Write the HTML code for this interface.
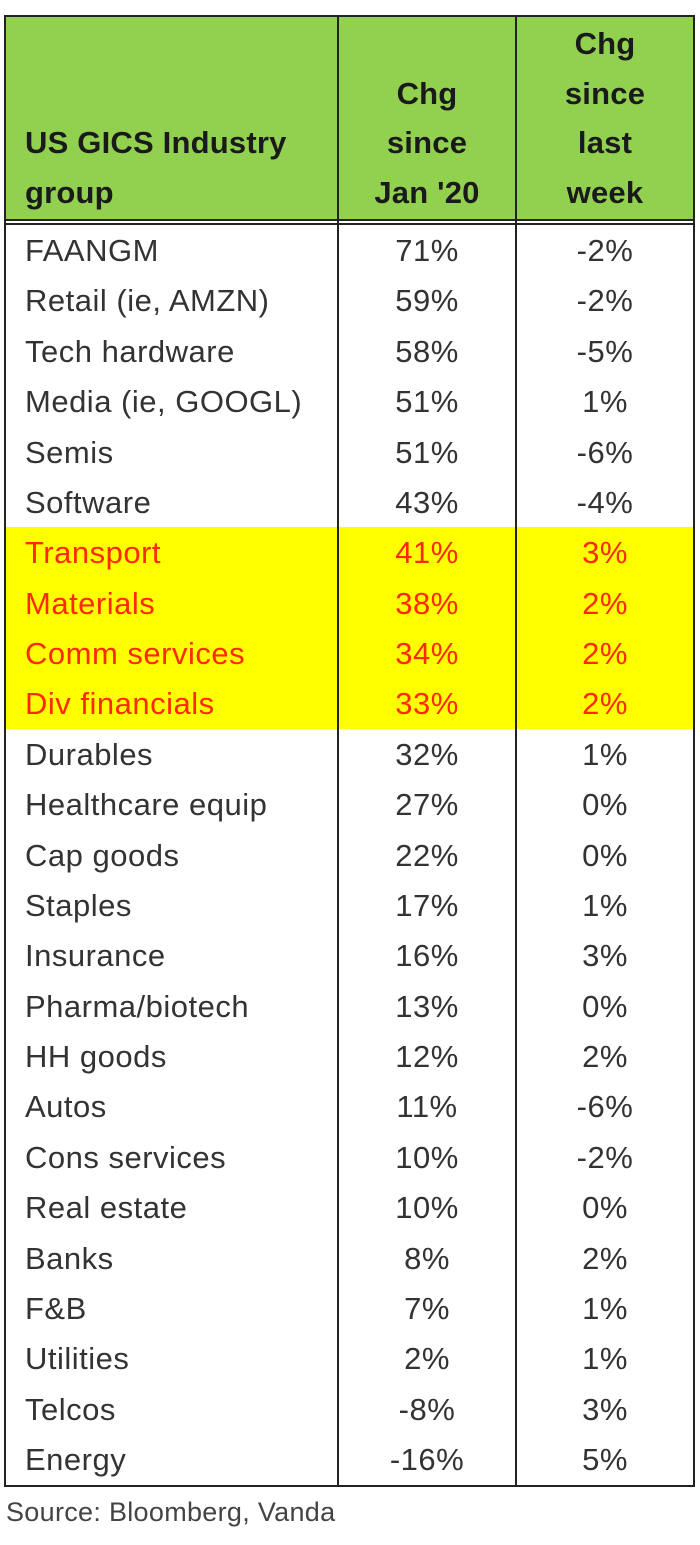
<!DOCTYPE html>
<html><head><style>
body{margin:0;width:700px;height:1545px;background:#fff;position:relative;font-family:"Liberation Sans",sans-serif;overflow:hidden}
.t{position:absolute;font-size:31px;line-height:50px;white-space:nowrap;letter-spacing:0.5px}
.h{font-weight:bold;color:#1a1a1a;font-size:31px;letter-spacing:0.2px}
.c2{left:338px;width:178px;text-align:center}
.c3{left:516px;width:178px;text-align:center}
.c1{left:25px}
.ln{position:absolute;background:#222}
</style></head><body>
<div style="position:absolute;left:5px;top:16px;width:689px;height:204px;background:#92d050"></div>
<div style="position:absolute;left:5px;top:527px;width:689px;height:202px;background:#ffff00"></div>
<div class="ln" style="left:4px;top:15px;width:691px;height:2px"></div>
<div class="ln" style="left:4px;top:1485px;width:691px;height:2px"></div>
<div class="ln" style="left:4px;top:15px;width:2px;height:1472px"></div>
<div class="ln" style="left:693px;top:15px;width:2px;height:1472px"></div>
<div class="ln" style="left:337px;top:15px;width:2px;height:1472px"></div>
<div class="ln" style="left:515px;top:15px;width:2px;height:1472px"></div>
<div class="ln" style="left:4px;top:219px;width:691px;height:2px"></div>
<div class="ln" style="left:4px;top:223px;width:691px;height:1.5px"></div>
<div class="t h c1" style="top:118px">US GICS Industry</div>
<div class="t h c1" style="top:168px">group</div>
<div class="t h c2" style="top:69px">Chg</div>
<div class="t h c2" style="top:118px">since</div>
<div class="t h c2" style="top:168px">Jan '20</div>
<div class="t h c3" style="top:19px">Chg</div>
<div class="t h c3" style="top:69px">since</div>
<div class="t h c3" style="top:118px">last</div>
<div class="t h c3" style="top:168px">week</div>
<div id="rows"></div>
<div style="position:absolute;left:6px;top:1495px;font-size:27px;line-height:34px;color:#444;letter-spacing:0.3px">Source: Bloomberg, Vanda</div>
<script>
var d=[["FAANGM","71%","-2%"],["Retail (ie, AMZN)","59%","-2%"],["Tech hardware","58%","-5%"],["Media (ie, GOOGL)","51%","1%"],["Semis","51%","-6%"],["Software","43%","-4%"],["Transport","41%","3%"],["Materials","38%","2%"],["Comm services","34%","2%"],["Div financials","33%","2%"],["Durables","32%","1%"],["Healthcare equip","27%","0%"],["Cap goods","22%","0%"],["Staples","17%","1%"],["Insurance","16%","3%"],["Pharma/biotech","13%","0%"],["HH goods","12%","2%"],["Autos","11%","-6%"],["Cons services","10%","-2%"],["Real estate","10%","0%"],["Banks","8%","2%"],["F&B","7%","1%"],["Utilities","2%","1%"],["Telcos","-8%","3%"],["Energy","-16%","5%"]];
var h="";for(var i=0;i<d.length;i++){var y=226+i*50.375,c=(i>=6&&i<=9)?"#ff2a00":"#333";
h+='<div class="t c1" style="top:'+y+'px;color:'+c+'">'+d[i][0].replace("&","&amp;")+'</div><div class="t c2" style="top:'+y+'px;color:'+c+'">'+d[i][1]+'</div><div class="t c3" style="top:'+y+'px;color:'+c+'">'+d[i][2]+'</div>';}
document.getElementById("rows").innerHTML=h;
</script>
</body></html>
